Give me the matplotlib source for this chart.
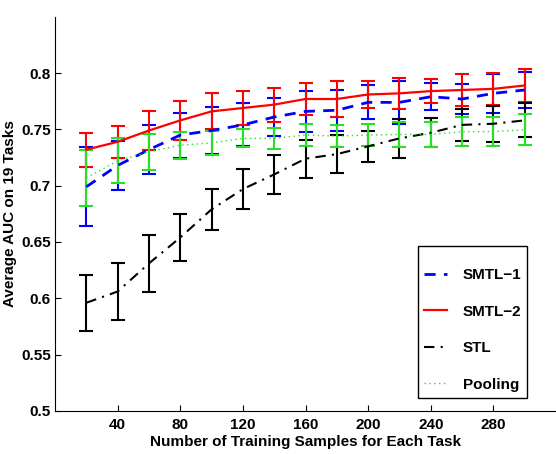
import numpy as np
import matplotlib
matplotlib.use("Agg")
import matplotlib.pyplot as plt

plt.rcParams['font.family'] = ['Liberation Sans', 'DejaVu Sans']

# sample sizes
n_samples = [20, 40, 60, 80, 100, 120, 140, 160, 180, 200, 220, 240, 260, 280, 300]

# SMTL-1 (blue dashed)
smtl1_mean = [0.699, 0.718, 0.732, 0.745, 0.749, 0.754, 0.761, 0.766, 0.767, 0.774, 0.774, 0.779, 0.777, 0.782, 0.785]
smtl1_err = [0.035, 0.022, 0.022, 0.020, 0.021, 0.019, 0.017, 0.018, 0.018, 0.015, 0.019, 0.012, 0.013, 0.017, 0.016]

# SMTL-2 (red solid)
smtl2_mean = [0.732, 0.739, 0.749, 0.758, 0.766, 0.769, 0.772, 0.777, 0.777, 0.781, 0.782, 0.784, 0.785, 0.786, 0.789]
smtl2_err = [0.015, 0.014, 0.017, 0.017, 0.016, 0.015, 0.015, 0.014, 0.016, 0.012, 0.014, 0.011, 0.014, 0.014, 0.015]

# STL (black dash-dot)
stl_mean = [0.596, 0.606, 0.631, 0.654, 0.679, 0.697, 0.710, 0.724, 0.728, 0.735, 0.742, 0.747, 0.754, 0.755, 0.758]
stl_err = [0.025, 0.025, 0.025, 0.021, 0.018, 0.018, 0.017, 0.017, 0.017, 0.014, 0.017, 0.013, 0.014, 0.016, 0.015]

# Pooling (green dotted)
pool_mean = [0.707, 0.722, 0.730, 0.736, 0.738, 0.742, 0.742, 0.745, 0.744, 0.745, 0.7455, 0.7455, 0.748, 0.748, 0.7497]
pool_err = [0.025, 0.020, 0.016, 0.012, 0.011, 0.008, 0.009, 0.010, 0.010, 0.010, 0.011, 0.011, 0.013, 0.013, 0.014]

x_ticks = [40, 80, 120, 160, 200, 240, 280]
y_ticks = [0.5, 0.55, 0.6, 0.65, 0.7, 0.75, 0.8]
y_ticklabels = ['0.5', '0.55', '0.6', '0.65', '0.7', '0.75', '0.8']

green = (0.15, 0.88, 0.15)
fs = 11

fig = plt.figure(figsize=(5.56, 4.54), dpi=100)
ax = fig.add_axes([0.099, 0.095, 0.901, 0.868])

ax.errorbar(n_samples, smtl1_mean, yerr=smtl1_err, color='blue', linestyle=(0, (4, 3)),
            linewidth=2, elinewidth=1.5, capsize=5, capthick=1.5, label='SMTL\u22121')
ax.errorbar(n_samples, smtl2_mean, yerr=smtl2_err, color='red', linestyle='-',
            linewidth=1.6, elinewidth=1.5, capsize=5, capthick=1.5, label='SMTL\u22122')
ax.errorbar(n_samples, stl_mean, yerr=stl_err, color='black', linestyle=(0, (5, 3, 1, 3)),
            linewidth=1.5, elinewidth=1.5, capsize=5, capthick=1.5, label='STL')
ax.errorbar(n_samples, pool_mean, yerr=pool_err, color=green, linestyle=(0, (1, 2.5)),
            linewidth=1.0, elinewidth=1.5, capsize=5, capthick=1.5, ecolor=green, label='Pooling')

ax.set_xlim(0, 320)
ax.set_ylim(0.5, 0.85)
ax.set_xticks(x_ticks)
ax.set_xticklabels([str(t) for t in x_ticks], fontweight='bold', fontsize=fs)
ax.set_yticks(y_ticks)
ax.set_yticklabels(y_ticklabels, fontweight='bold', fontsize=fs)
ax.tick_params(axis='x', direction='in', length=4, width=0.8, pad=5)
ax.tick_params(axis='y', direction='in', length=4, width=0.8, pad=3)

ax.spines['top'].set_visible(False)
ax.spines['right'].set_visible(False)

ax.set_xlabel('Number of Training Samples for Each Task', fontweight='bold', fontsize=fs, labelpad=2)
ax.set_ylabel('Average AUC on 19 Tasks', fontweight='bold', fontsize=fs)
ax.yaxis.set_label_coords(-0.075, 0.5)

# legend with lines only (no error bar markers)
handles, labels = ax.get_legend_handles_labels()
handles = [h[0] for h in handles]
leg = ax.legend(handles, labels, loc='lower left', bbox_to_anchor=(0.725, 0.033),
                prop={'weight': 'bold', 'size': fs}, labelspacing=1.48,
                handlelength=1.5, handletextpad=1.0, borderpad=0.4,
                title=' ', title_fontsize=7,
                fancybox=False, framealpha=1, edgecolor='black', borderaxespad=0)
leg._legend_box.sep = 4  # extra room on top like the original
leg.get_frame().set_linewidth(1.0)

plt.savefig('out.png', dpi=100)
